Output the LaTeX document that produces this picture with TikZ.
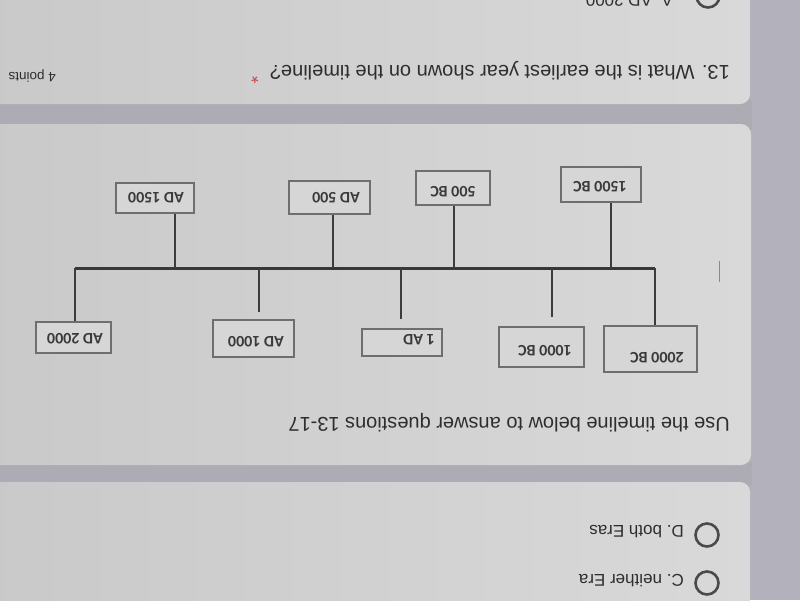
\documentclass[tikz,border=0pt]{standalone}
\usepackage{fontspec}
\setmainfont{Liberation Sans}
\newfontfamily\boxfont{Carlito}
\begin{document}
\begin{tikzpicture}[x=1pt,y=-1pt,
  card/.style={left color=cardL, right color=cardR, draw=none, rounded corners=10pt},
  ink/.style={text=inkc, inner sep=0pt},
  qtext/.style={ink, rotate=180, anchor=west, font=\fontsize{20}{23}\selectfont},
  otext/.style={ink, rotate=180, anchor=west, font=\fontsize{17}{20}\selectfont},
  ybox/.style={draw=boxc, line width=1.1pt, fill=boxfill, inner sep=0pt},
  ylbl/.style={text=lblc, inner sep=0pt, rotate=180, font=\boxfont\bfseries\fontsize{16}{18}\selectfont},
  stem/.style={draw=linec, line width=1.1pt},
  axis/.style={draw=axisc, line width=3pt},
  radio/.style={draw=radioc, line width=2.6pt, circle, minimum size=23pt, inner sep=0pt}
]
\definecolor{bgc}{HTML}{B3B1BC}
\definecolor{bandc}{HTML}{ADACB4}
\definecolor{cardL}{HTML}{C9C9C9}
\definecolor{cardR}{HTML}{D9D9D9}
\definecolor{inkc}{HTML}{2E2E30}
\definecolor{lblc}{HTML}{3A3A3C}
\definecolor{boxc}{HTML}{6E6E70}
\definecolor{boxfill}{HTML}{D6D6D6}
\definecolor{linec}{HTML}{3C3C3E}
\definecolor{axisc}{HTML}{38383A}
\definecolor{radioc}{HTML}{4A4A4C}
\definecolor{starc}{HTML}{C24A42}
\definecolor{markc}{HTML}{8A8A8E}

\useasboundingbox (0,0) rectangle (800,600);
\begin{scope}
\clip (0,0) rectangle (800,600);
\fill[bgc] (0,0) rectangle (800,600);
\fill[bandc] (0,100) rectangle (752,130);
\fill[bandc] (0,462) rectangle (752,486);
\shade[card] (-20,-20) rectangle (750,104);
\shade[card] (-20,124) rectangle (751,465);
\shade[card] (-20,482) rectangle (750,640);

% card 1
\node[radio] (r0) at (708,-4) {};
\node[ink, rotate=180, anchor=base west, font=\fontsize{17}{20}\selectfont] (o0) at (673,-5.5) {A. AD 2000};
\node[qtext] (q13) at (730,71) {13. What is the earliest year shown on the timeline?};
\node[ink, rotate=180, text=starc, font=\fontsize{19}{22}\selectfont] (star) at (255,77) {*};
\node[ink, rotate=180, anchor=west, font=\fontsize{13.5}{15}\selectfont] (pts) at (56,76) {4 points};

% card 2
\node[qtext] (intro) at (730,423) {Use the timeline below to answer questions 13-17};

\coordinate (tl) at (75,268);
\coordinate (tr) at (655,268);
\draw[axis] (tl) -- (tr);

% boxes above the axis
\node[ybox, minimum width=80pt, minimum height=35pt] (b1500bc) at (601,184.5) {};
\node[ylbl] (l1500bc) at (600,187) {1500 BC};
\node[ybox, minimum width=74pt, minimum height=34pt] (b500bc) at (453,188) {};
\node[ylbl] (l500bc) at (453,192) {500 BC};
\node[ybox, minimum width=81pt, minimum height=33pt] (bad500) at (329.5,197.5) {};
\node[ylbl] (lad500) at (336,198) {AD 500};
\node[ybox, minimum width=78pt, minimum height=30pt] (bad1500) at (155,198) {};
\node[ylbl] (lad1500) at (156,198) {AD 1500};

% boxes below the axis
\node[ybox, minimum width=93pt, minimum height=46pt] (b2000bc) at (650.5,349) {};
\node[ylbl] (l2000bc) at (657,358) {2000 BC};
\node[ybox, minimum width=85pt, minimum height=40pt] (b1000bc) at (541.5,347) {};
\node[ylbl] (l1000bc) at (545,351) {1000 BC};
\node[ybox, minimum width=80pt, minimum height=27pt] (b1ad) at (402,342.5) {};
\node[ylbl] (l1ad) at (419,340) {1 AD};
\node[ybox, minimum width=81pt, minimum height=37pt] (bad1000) at (253.5,338.5) {};
\node[ylbl] (lad1000) at (256,342) {AD 1000};
\node[ybox, minimum width=75pt, minimum height=31pt] (bad2000) at (73.5,337.5) {};
\node[ylbl] (lad2000) at (75,339) {AD 2000};

% stems up
\coordinate (u1) at (611,268);
\coordinate (u2) at (454,268);
\coordinate (u3) at (333,268);
\coordinate (u4) at (175,268);
\draw[stem] (u1) -- (u1 |- b1500bc.south);
\draw[stem] (u2) -- (u2 |- b500bc.south);
\draw[stem] (u3) -- (u3 |- bad500.south);
\draw[stem] (u4) -- (u4 |- bad1500.south);

% stems down
\coordinate (d1) at (75,268);
\coordinate (d2) at (259,268);
\coordinate (d3) at (401,268);
\coordinate (d4) at (552,268);
\coordinate (d5) at (655,268);
\coordinate (e2) at (259,312);
\coordinate (e3) at (401,319);
\coordinate (e4) at (552,317);
\draw[stem] (d1) -- (d1 |- bad2000.north);
\draw[stem] (d2) -- (e2);
\draw[stem] (d3) -- (e3);
\draw[stem] (d4) -- (e4);
\draw[stem] (d5) -- (d5 |- b2000bc.north);

% small mark
\coordinate (m1) at (719,261);
\coordinate (m2) at (719,282);
\draw[markc, line width=0.9pt] (m1) -- (m2);

% card 3
\node[radio] (r1) at (707,535) {};
\node[otext] (od) at (684,532) {D. both Eras};
\node[radio] (r2) at (707,583) {};
\node[otext] (oc) at (684,581) {C. neither Era};
\end{scope}
\end{tikzpicture}
\end{document}
